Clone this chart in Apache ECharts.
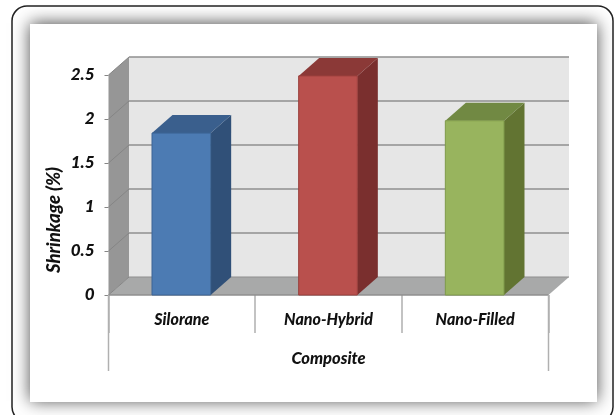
<!DOCTYPE html>
<html>
<head>
<meta charset="utf-8">
<style>html,body{margin:0;padding:0;background:#fff}#c{width:615px;height:415px}</style>
<script src="https://cdn.jsdelivr.net/npm/echarts@6/dist/echarts.min.js"></script>
</head>
<body>
<div id="c"></div>
<script>
const categories = ['Silorane', 'Nano-Hybrid', 'Nano-Filled'];
const shrinkage = [1.84, 2.49, 1.98];
const tickValues = [0, 0.5, 1, 1.5, 2, 2.5];
const frontColors = ['#4c7bb3', '#b9504d', '#98b45e'];
const sideColors = ['#305078', '#7a2f2e', '#627432'];
const topColors = ['#3a5f8d', '#8b3937', '#718943'];
const edgeColors = ['#3c6595', '#9a3f3c', '#7f9a4a'];
const DX = 20.5, DY = 18, FONT = 'Lato, Carlito, "Open Sans", sans-serif';

const poly = (points, fill, stroke) => ({
  type: 'polygon', shape: { points },
  style: { fill, stroke: stroke || fill, lineWidth: stroke ? 1 : 0 }
});
const line = (x1, y1, x2, y2, stroke, lineWidth) => ({
  type: 'line', shape: { x1, y1, x2, y2 }, style: { stroke, lineWidth }
});

function renderWalls(params, api) {
  const half = api.size([1, 0])[0] / 2;
  const x0 = api.coord([0, 0])[0] - half;
  const x1 = api.coord([categories.length - 1, 0])[0] + half;
  const y0 = api.coord([0, 0])[1];
  const yTop = api.coord([0, tickValues[tickValues.length - 1]])[1];
  const children = [
    poly([[x0 + DX, yTop - DY], [x1 + DX, yTop - DY], [x1 + DX, y0 - DY], [x0 + DX, y0 - DY]], '#e6e6e6'),
    poly([[x0, yTop], [x0 + DX, yTop - DY], [x0 + DX, y0 - DY], [x0, y0]], '#969696'),
    poly([[x0, y0], [x0 + DX, y0 - DY], [x1 + DX, y0 - DY], [x1, y0]], '#a8a9a9')
  ];
  tickValues.forEach(t => {
    const y = api.coord([0, t])[1];
    children.push(line(x0 + DX, y - DY, x1 + DX, y - DY, '#8f8f8f', t === 0 ? 1 : 1.5));
    children.push(line(x0, y, x0 + DX, y - DY, '#858585', 1));
  });
  children.push(line(x0, y0, x1, y0, '#8f8f8f', 1.5));
  // outer ends of the two-level category axis
  children.push(line(x0, y0, x0, y0 + 76, '#b0b0b0', 1.5));
  children.push(line(x1, y0, x1, y0 + 76, '#b0b0b0', 1.5));
  return { type: 'group', children };
}

function renderBar(params, api) {
  const i = api.value(0), v = api.value(1);
  const [cx, yT] = api.coord([i, v]);
  const y0 = api.coord([i, 0])[1];
  const w = api.size([1, 0])[0] * 0.4;
  const l = cx - w / 2 - 0.5, r = l + w;
  return {
    type: 'group',
    children: [
      poly([[r, yT], [r + DX, yT - DY], [r + DX, y0 - DY], [r, y0]], sideColors[i]),
      poly([[l, yT], [l + DX, yT - DY], [r + DX, yT - DY], [r, yT]], topColors[i]),
      poly([[l, yT], [r, yT], [r, y0], [l, y0]], frontColors[i], edgeColors[i])
    ]
  };
}

const chart = echarts.init(document.getElementById('c'), null, { renderer: 'canvas' });
chart.setOption({
  animation: false,
  textStyle: { fontFamily: FONT },
  grid: { left: 108.5, right: 66.5, top: 75, bottom: 120 },
  graphic: { elements: [
    { type: 'rect', z: -20, silent: true, shape: { x: 12, y: 6, width: 601, height: 416, r: 15 },
      style: { fill: '#fff', stroke: '#222', lineWidth: 1.5 } },
    { type: 'rect', z: -19, silent: true, shape: { x: 30, y: 24, width: 567, height: 378 },
      style: { fill: '#fff', shadowBlur: 16, shadowColor: 'rgba(0,0,0,0.7)', shadowOffsetY: -1 } },
    { type: 'text', z: 5, rotation: Math.PI / 2, x: 54, y: 220, silent: true,
      style: { text: 'Shrinkage (%)', x: 0, y: 0, align: 'center', verticalAlign: 'middle',
        font: 'italic 900 18.5px ' + FONT, fill: '#111' } }
  ] },
  xAxis: {
    type: 'category', data: categories,
    name: 'Composite', nameLocation: 'middle', nameGap: 55,
    nameTextStyle: { fontFamily: FONT, fontSize: 16.5, fontWeight: 900, fontStyle: 'italic', color: '#111' },
    axisLine: { show: false },
    axisTick: { show: true, alignWithLabel: false, length: 38, lineStyle: { color: '#b0b0b0', width: 1.5 } },
    axisLabel: { fontFamily: FONT, fontSize: 16, fontWeight: 900, fontStyle: 'italic', color: '#111', margin: 17 }
  },
  yAxis: {
    type: 'value', min: 0, max: 2.5, interval: 0.5,
    axisLine: { show: false },
    axisTick: { show: true, length: 4, lineStyle: { color: '#858585' } },
    splitLine: { show: false },
    axisLabel: { fontFamily: FONT, fontSize: 17, fontWeight: 900, fontStyle: 'italic', color: '#111', margin: 14,
      padding: [2, 0, 0, 0], formatter: v => String(v) }
  },
  series: [
    { type: 'custom', silent: true, clip: false, z: 1, renderItem: renderWalls, data: [[0, 0]] },
    { type: 'custom', silent: true, clip: false, z: 2, renderItem: renderBar,
      encode: { x: 0, y: 1 }, data: shrinkage.map((v, i) => [i, v]) }
  ]
});
</script>
</body>
</html>
